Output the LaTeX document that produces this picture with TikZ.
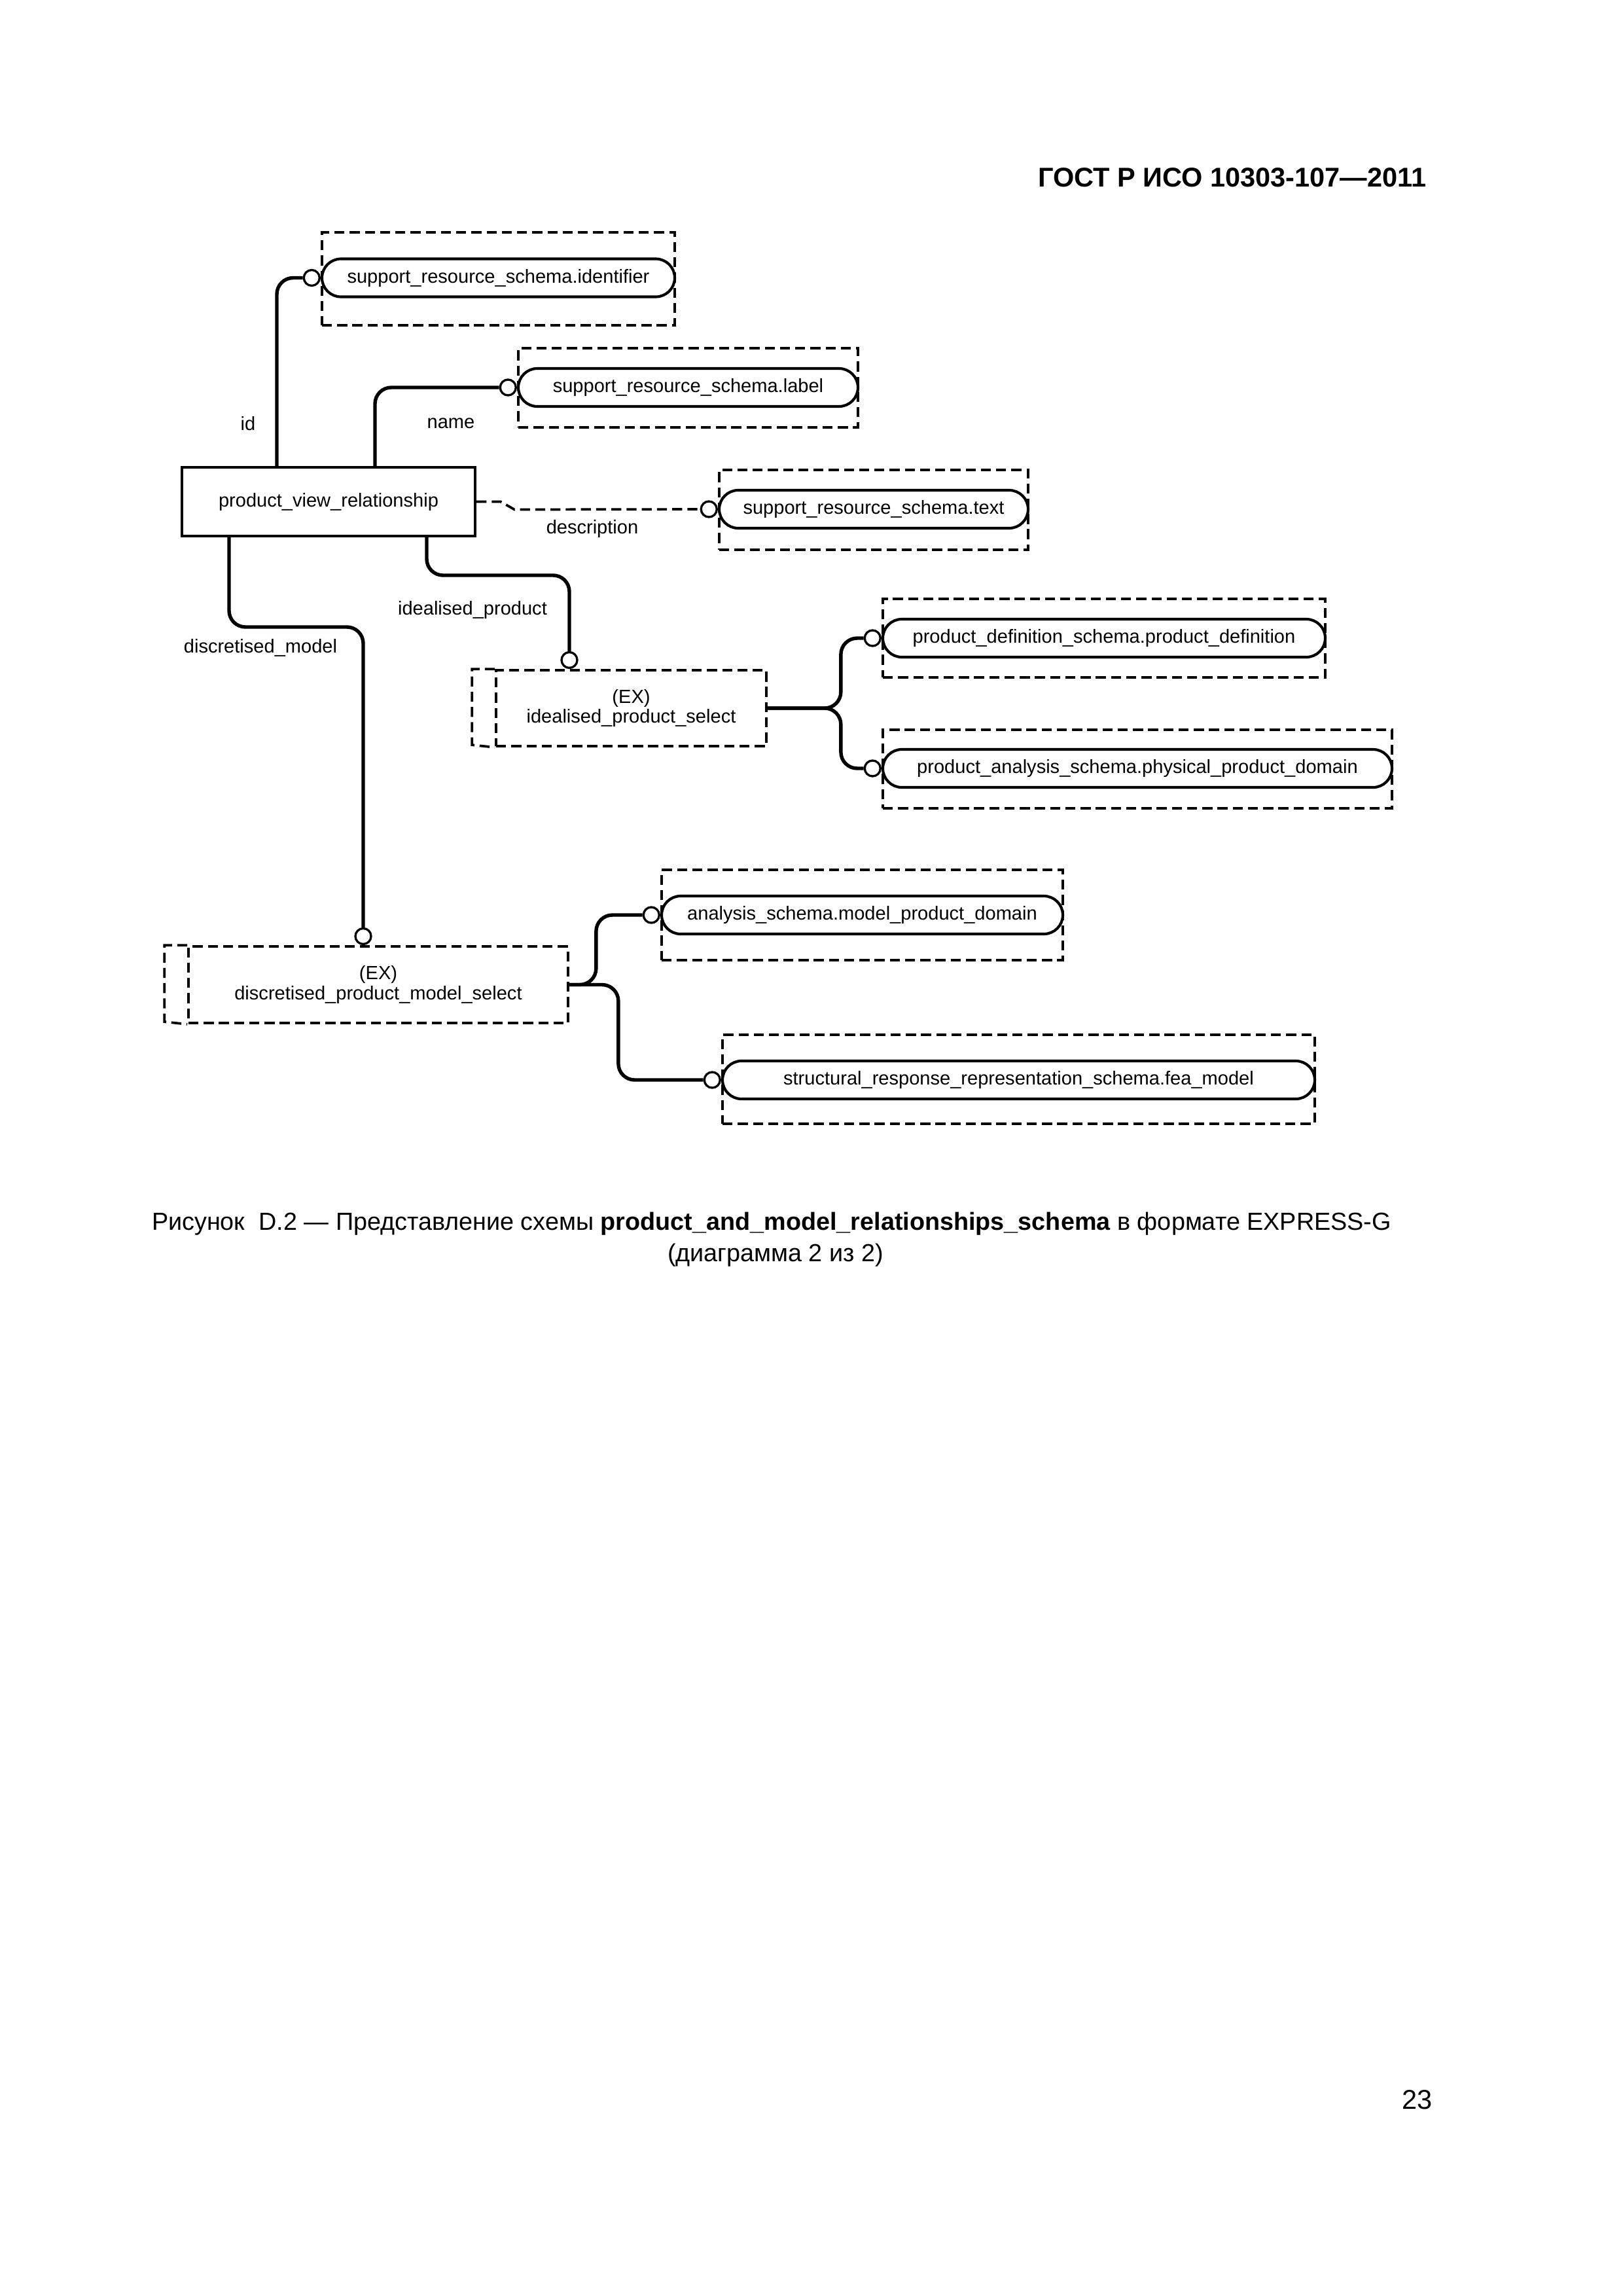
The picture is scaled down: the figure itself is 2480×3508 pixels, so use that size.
\documentclass[tikz,border=0pt]{standalone}
\usepackage{fontspec}
\setmainfont{Liberation Sans}
\usetikzlibrary{positioning, shapes.misc}
\newlength{\pxl}
\setlength{\pxl}{0.0846774mm}

\begin{document}
\begin{tikzpicture}[x=0.0846774mm, y=-0.0846774mm,
    every node/.style={font=\fontsize{7}{7.4}\selectfont, inner sep=0pt},
    dashline/.style={line width=0.9pt, dash pattern=on 3.7pt off 1.9pt},
    ent/.style={draw, line width=1pt, minimum width=448\pxl, minimum height=105\pxl},
    dbox/.style 2 args={draw, dashline, minimum width=#1\pxl, minimum height=#2\pxl},
    sel/.style 2 args={dbox={#1}{#2}, align=center},
    pill/.style={draw, rounded rectangle, line width=1pt, minimum width=#1\pxl, minimum height=58\pxl},
    ring/.style={draw, circle, line width=0.8pt, fill=white, minimum size=24\pxl},
    attr/.style={line width=1.3pt, rounded corners=6pt},
    lbl/.style={anchor=base}]
  \useasboundingbox (0,0) rectangle (2480,3508);

  \node[anchor=base east, font=\bfseries\fontsize{10}{12}\selectfont] (head) at (2180,285) {ГОСТ Р ИСО 10303-107—2011};

  \node[ent] (pvr) at (502,766.5) {product\_view\_relationship};

  \node[dbox={539}{142}] (b1) at (761.5,426) {};
  \node[pill=539] (p1) at (761.5,424.5) {support\_resource\_schema.identifier};
  \node[ring, left=0pt of p1] (c1) {};

  \node[dbox={519}{121}] (b2) at (1051.5,592.5) {};
  \node[pill=519] (p2) at (1051.5,592) {support\_resource\_schema.label};
  \node[ring, left=0pt of p2] (c2) {};

  \node[dbox={472}{122}] (b3) at (1335,779) {};
  \node[pill=472] (p3) at (1335,778) {support\_resource\_schema.text};
  \node[ring, left=0pt of p3] (c3) {};

  \node[sel={413}{116}] (s1) at (964.5,1082) {(EX)\\idealised\_product\_select};
  \draw[dashline] (s1.north west) -- ++(-35,0) -- ++(0,116) -- (s1.south west);
  \node[ring, anchor=south] (c4) at (s1.north -| 870,0) {};

  \node[dbox={676}{120}] (b5) at (1687,975) {};
  \node[pill=676] (p5) at (1687,975) {product\_definition\_schema.product\_definition};
  \node[ring, left=0pt of p5] (c5) {};

  \node[dbox={778}{120}] (b6) at (1738,1175) {};
  \node[pill=778] (p6) at (1738,1174) {product\_analysis\_schema.physical\_product\_domain};
  \node[ring, left=0pt of p6] (c6) {};

  \node[sel={580}{117}] (s2) at (578,1504.5) {(EX)\\discretised\_product\_model\_select};
  \draw[dashline] (s2.north west) -- ++(-35,0) -- ++(0,117) -- (s2.south west);
  \node[ring, anchor=south] (c7) at (s2.north -| 555,0) {};

  \node[dbox={613}{138}] (b8) at (1317.5,1398) {};
  \node[pill=613] (p8) at (1317.5,1398) {analysis\_schema.model\_product\_domain};
  \node[ring, left=0pt of p8] (c8) {};

  \node[dbox={905}{136}] (b9) at (1556.5,1649) {};
  \node[pill=905] (p9) at (1556.5,1650) {structural\_response\_representation\_schema.fea\_model};
  \node[ring, left=0pt of p9] (c9) {};

  \draw[attr] (pvr.north -| 423,0) |- (c1);
  \draw[attr] (pvr.north -| 573,0) |- (c2);
  \draw[attr, dashline, sharp corners] (pvr.east) -- ++(37,0) -- ++(21,12) -- (c3);
  \draw[attr] (pvr.south -| 652,0) |- (c4 |- 0,879) -- (c4);
  \draw[attr] (pvr.south -| 350,0) |- (c7 |- 0,958) -- (c7);

  \coordinate (j1) at ([xshift=112\pxl]s1.east);
  \draw[attr] (s1.east) -- (j1) |- (c5);
  \draw[attr] (s1.east) -- (j1) |- (c6);
  \coordinate (j2) at ([xshift=41\pxl]s2.east);
  \coordinate (j3) at ([xshift=75\pxl]s2.east);
  \draw[attr] (s2.east) -- (j2) |- (c8);
  \draw[attr] (s2.east) -- (j3) |- (c9);

  \node[lbl] (lid) at (379,657) {id};
  \node[lbl] (lname) at (689,654) {name};
  \node[lbl] (ldesc) at (905,815) {description};
  \node[lbl] (lideal) at (722,939) {idealised\_product};
  \node[lbl] (ldisc) at (398,997) {discretised\_model};

  \node[anchor=base, font=\fontsize{9.1}{11}\selectfont] (cap1) at (1179,1879) {Рисунок\ \ D.2 — Представление схемы \textbf{product\_and\_model\_relationships\_schema} в формате EXPRESS-G};
  \node[anchor=base, font=\fontsize{9.1}{11}\selectfont] (cap2) at (1185,1927) {(диаграмма 2 из 2)};
  \node[anchor=base east, font=\fontsize{10}{12}\selectfont] (page) at (2189,3222) {23};
\end{tikzpicture}
\end{document}
